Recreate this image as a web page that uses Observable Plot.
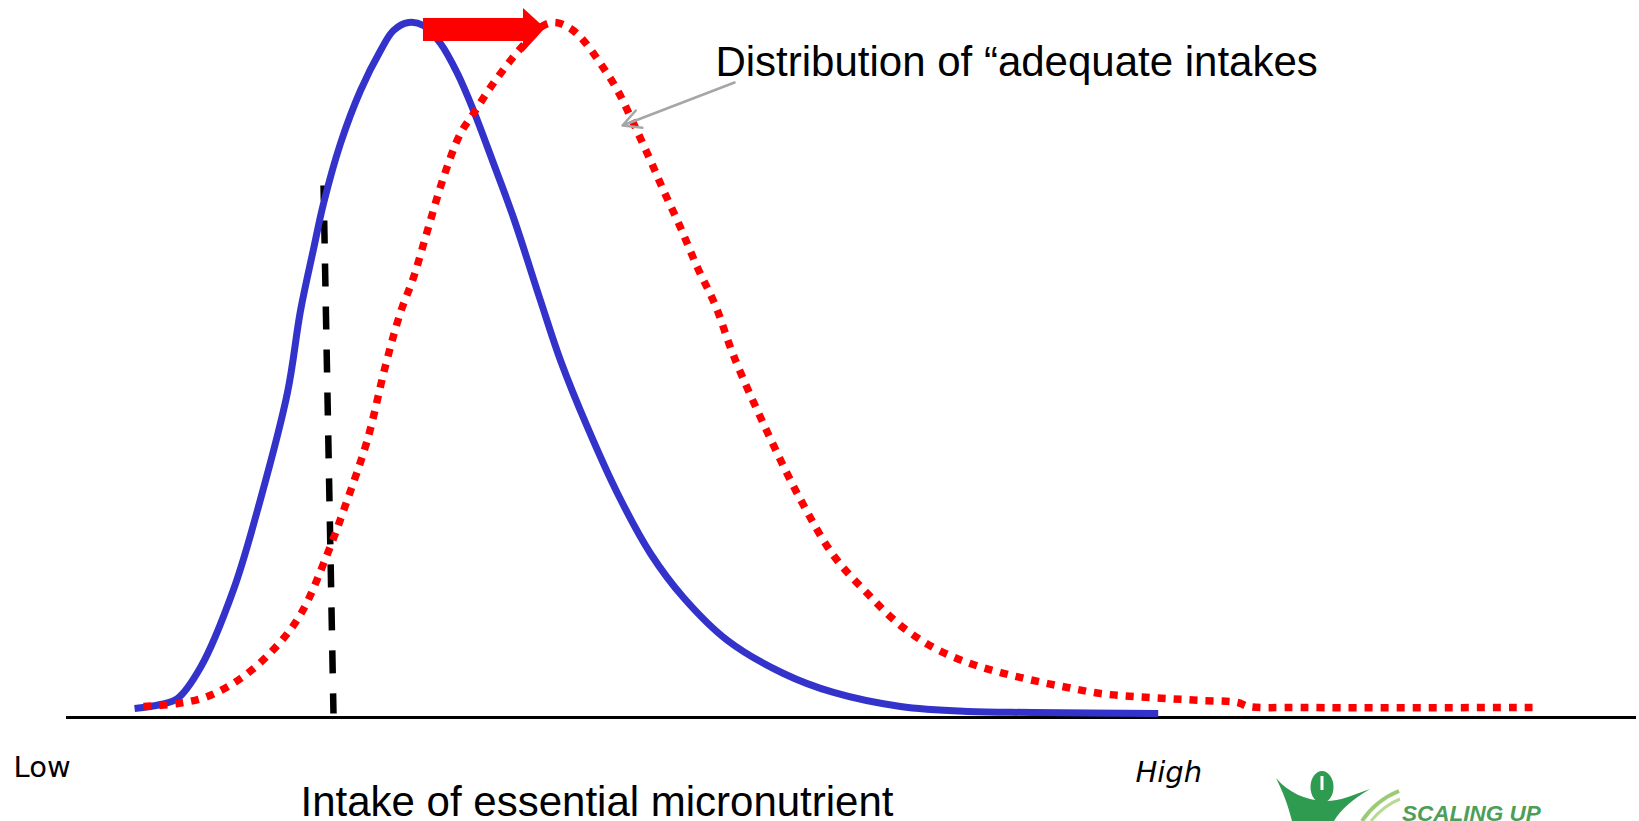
<!DOCTYPE html>
<html>
<head>
<meta charset="utf-8">
<script src="https://cdn.jsdelivr.net/npm/d3@7"></script>
<script src="https://cdn.jsdelivr.net/npm/@observablehq/plot@0.6"></script>
<style>
  html, body { margin: 0; padding: 0; background: #fff; overflow: hidden; }
  #wrap { position: relative; width: 1639px; height: 821px; }
  #wrap svg.logo { position: absolute; left: 0; top: 0; pointer-events: none; }
</style>
</head>
<body>
<div id="wrap"></div>
<script>
// Intake (0 = low end of axis, 100 = high end) and relative density (0..100)
const currentIntake = [4.38, 6.05, 7.14, 8.62, 10.75, 12.48, 14.22, 15.06, 15.89, 16.54, 17.63, 18.92, 20.21, 21.04, 22.01, 22.97, 24.07, 25.16, 26.19, 27.48, 28.76, 30.50, 31.79, 33.53, 35.46, 37.58, 39.70, 42.54, 46.14, 49.36, 53.67, 57.98, 62.23, 70.25];
const currentDensity = [1.29, 1.87, 2.73, 7.19, 18.42, 31.37, 46.76, 58.56, 67.34, 73.96, 82.59, 90.22, 95.97, 98.85, 100, 99.57, 96.98, 92.66, 87.34, 79.71, 71.94, 60.00, 51.37, 41.73, 32.23, 23.60, 17.27, 11.08, 6.33, 3.60, 1.58, 0.86, 0.72, 0.58];

const adequateIntake = [4.95, 7.14, 9.07, 11.20, 13.32, 15.06, 16.80, 18.08, 19.37, 20.53, 21.49, 22.33, 23.23, 24.26, 25.35, 26.19, 27.28, 28.57, 29.86, 30.69, 31.47, 32.43, 33.27, 34.36, 35.46, 36.49, 37.58, 38.42, 39.51, 40.60, 41.76, 42.92, 45.11, 47.23, 49.36, 51.54, 53.67, 55.79, 57.98, 60.10, 62.23, 64.41, 66.54, 68.66, 70.85, 72.97, 75.35, 76.06, 79.41, 94.34];
const adequateDensity = [1.58, 2.01, 3.02, 5.61, 9.78, 14.82, 23.60, 31.37, 40.00, 50.65, 58.27, 63.31, 70.07, 77.70, 84.03, 86.91, 90.65, 94.53, 97.84, 99.57, 100, 99.14, 97.41, 94.10, 90.22, 85.47, 80.14, 75.83, 70.50, 64.75, 59.28, 52.09, 41.01, 31.37, 23.31, 17.84, 13.24, 10.07, 7.91, 6.47, 5.32, 4.32, 3.45, 3.02, 2.73, 2.45, 2.16, 1.58, 1.44, 1.44];

// Requirement cut-off (dashed line)
const cutoffIntake = [16.54, 17.18];
const cutoffDensity = [76.55, 0.58];

// Baseline extent
const baselineIntake = [0, 101.03];

// Shift arrow (body + head) in data units
const shiftBodyX = [22.97, 29.41];
const shiftBodyY = [97.27, 100.58];
const shiftHeadX = [29.41, 30.82];
const shiftHeadLow = [95.68, 99.14];
const shiftHeadHigh = [102.01, 99.14];

// Annotation pointer
const pointerFrom = [42.99, 91.37];
const pointerTo = [35.78, 85.18];

// Text labels
const labelTexts = ["Distribution of \u201Cadequate intakes", "Intake of essential micronutrient", "Low", "High"];
const labelX = [41.76, 15.06, -3.41, 68.79];
const labelY = [92.37, -14.24, -8.49, -9.35];

const current = currentIntake.map((x, i) => ({x, y: currentDensity[i]}));
const adequate = adequateIntake.map((x, i) => ({x, y: adequateDensity[i]}));
const cutoff = cutoffIntake.map((x, i) => ({x, y: cutoffDensity[i]}));
const head = shiftHeadX.map((x, i) => ({x, y1: shiftHeadLow[i], y2: shiftHeadHigh[i]}));

const bigFont = "'Liberation Sans', Arial, Helvetica, sans-serif";
const smallFont = "'DejaVu Sans', Verdana, sans-serif";

const chart = Plot.plot({
  width: 1639,
  height: 821,
  marginLeft: 66,
  marginRight: 19,
  marginTop: 22,
  marginBottom: 104,
  x: {domain: [0, 100], axis: null},
  y: {domain: [0, 100], axis: null},
  style: {background: "white", overflow: "visible"},
  marks: [
    Plot.ruleY([0], {x1: baselineIntake[0], x2: baselineIntake[1], stroke: "black", strokeWidth: 3}),
    Plot.line(cutoff, {x: "x", y: "y", stroke: "black", strokeWidth: 6.5, strokeDasharray: "23,20", strokeDashoffset: 8, strokeLinecap: "butt"}),
    Plot.line(current, {x: "x", y: "y", curve: "catmull-rom", stroke: "#3333CC", strokeWidth: 7, strokeLinecap: "butt"}),
    Plot.line(adequate, {x: "x", y: "y", curve: "catmull-rom", stroke: "#FF0000", strokeWidth: 7.5, strokeDasharray: "8,8", strokeLinecap: "butt"}),
    Plot.rect([0], {x1: shiftBodyX[0], x2: shiftBodyX[1], y1: shiftBodyY[0], y2: shiftBodyY[1], fill: "#FF0000"}),
    Plot.areaY(head, {x: "x", y1: "y1", y2: "y2", fill: "#FF0000"}),
    Plot.arrow([0], {x1: pointerFrom[0], y1: pointerFrom[1], x2: pointerTo[0], y2: pointerTo[1], stroke: "#A6A6A6", strokeWidth: 2.5, headLength: 12, headAngle: 55}),
    Plot.text([0], {x: labelX[0], y: labelY[0], text: [labelTexts[0]], textAnchor: "start", lineAnchor: "bottom", fontSize: 42, fontFamily: bigFont, fill: "black"}),
    Plot.text([0], {x: labelX[1], y: labelY[1], text: [labelTexts[1]], textAnchor: "start", lineAnchor: "bottom", fontSize: 42, fontFamily: bigFont, fill: "black"}),
    Plot.text([0], {x: labelX[2], y: labelY[2], text: [labelTexts[2]], textAnchor: "start", lineAnchor: "bottom", fontSize: 29, fontFamily: smallFont, fill: "black"}),
    Plot.text([0], {x: labelX[3], y: labelY[3], text: [labelTexts[3]], textAnchor: "start", lineAnchor: "bottom", fontSize: 29, fontFamily: smallFont, fontStyle: "italic", fill: "black"})
  ]
});

const wrap = document.getElementById("wrap");
wrap.appendChild(chart);

// Decorative logo (bottom right)
const logo = d3.select(wrap).append("svg")
  .attr("class", "logo")
  .attr("width", 1639).attr("height", 821);
const g = logo.append("g");
g.append("path")
  .attr("d", "M1276,778 C1292,797 1320,807 1348,797 L1370,789 C1352,800 1340,810 1334,821 L1292,821 C1288,805 1283,792 1276,778 Z")
  .attr("fill", "#2F9B50");
g.append("ellipse").attr("cx", 1322).attr("cy", 787).attr("rx", 11.5).attr("ry", 16).attr("fill", "#2F9B50");
g.append("rect").attr("x", 1320.5).attr("y", 776).attr("width", 3).attr("height", 14).attr("fill", "#ffffff");
g.append("path").attr("d", "M1362,821 C1372,806 1384,797 1399,791").attr("fill", "none").attr("stroke", "#9CCB78").attr("stroke-width", 4);
g.append("path").attr("d", "M1371,821 C1380,810 1390,803 1400,799").attr("fill", "none").attr("stroke", "#B9DA96").attr("stroke-width", 3);
g.append("text").attr("x", 1402).attr("y", 821)
  .attr("font-family", "'Liberation Sans', Arial, sans-serif")
  .attr("font-weight", "bold").attr("font-style", "italic")
  .attr("font-size", 22.5).attr("fill", "#4E9E5A")
  .text("SCALING UP");
</script>
</body>
</html>
